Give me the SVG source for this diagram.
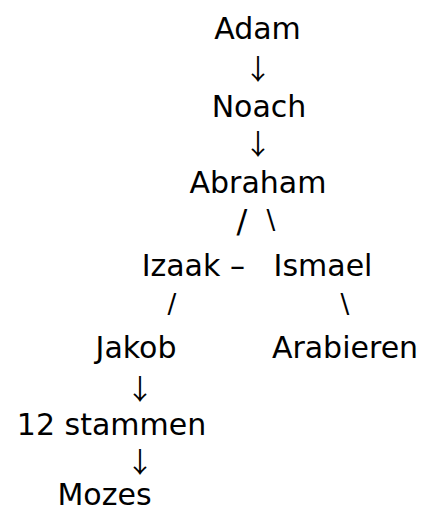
<svg xmlns="http://www.w3.org/2000/svg" width="430" height="511" viewBox="0 0 430 511">
  <style>
    .n { font-family: "DejaVu Sans", Verdana, sans-serif; font-size: 30px; fill: #000; text-anchor: middle; }
    .c { font-family: "DejaVu Sans", Verdana, sans-serif; fill: #000; text-anchor: middle; }
    .arr { font-family: "Noto Sans CJK JP", sans-serif; font-size: 28px; }
    .sl { font-size: 32px; }
    .thin { font-size: 26px; }
  </style>
  <rect width="430" height="511" fill="#fff"/>
  <g id="adam"><text class="n" x="257.5" y="39">Adam</text></g>
  <g id="noach"><text class="n" x="259" y="117">Noach</text></g>
  <g id="abraham"><text class="n" x="258" y="193">Abraham</text></g>
  <g id="izaak-ismael"><text class="n" y="276"><tspan x="181">Izaak</tspan><tspan x="237.5"> – </tspan><tspan x="323">Ismael</tspan></text></g>
  <g id="jakob"><text class="n" x="136" y="358">Jakob</text></g>
  <g id="arabieren"><text class="n" x="345" y="358">Arabieren</text></g>
  <g id="stammen"><text class="n" x="111.5" y="435">12 stammen</text></g>
  <g id="mozes"><text class="n" x="104.5" y="505">Mozes</text></g>
  <g id="connectors">
    <text class="c arr" x="258" y="80">↓</text>
    <text class="c arr" x="258" y="155">↓</text>
    <text class="c sl" x="242" y="232">/</text>
    <text class="c thin" x="271" y="229">\</text>
    <text class="c thin" x="172" y="313">/</text>
    <text class="c thin" x="345" y="313">\</text>
    <text class="c arr" x="140" y="400">↓</text>
    <text class="c arr" x="140" y="473">↓</text>
  </g>
</svg>
